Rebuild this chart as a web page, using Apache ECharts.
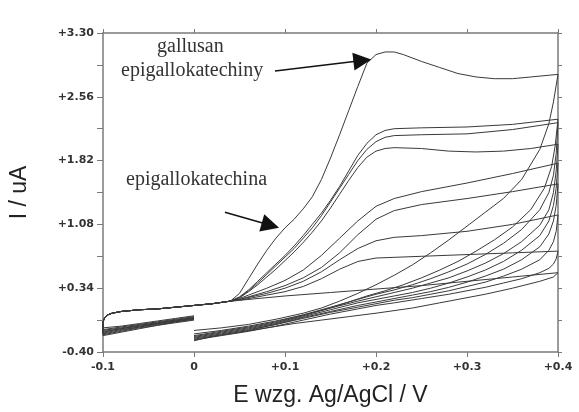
<!DOCTYPE html>
<html>
<head>
<meta charset="utf-8">
<script src="https://cdn.jsdelivr.net/npm/echarts@6/dist/echarts.min.js"></script>
<style>
  html, body { margin: 0; padding: 0; background: #fff; }
  #chart { width: 579px; height: 412px; }
</style>
</head>
<body>
<div id="chart"></div>
<script>
// potencjał E (V) i prąd I (uA)
var startE = [0, -0.02, -0.04, -0.06, -0.08, -0.1];
var startI1 = [0.02, -0.01, -0.04, -0.07, -0.10, -0.12];
var startI2 = [0.01, -0.02, -0.05, -0.08, -0.11, -0.14];
var startI3 = [0.00, -0.03, -0.06, -0.09, -0.12, -0.15];
var startI4 = [0.00, -0.03, -0.06, -0.09, -0.13, -0.16];
var startI5 = [-0.01, -0.04, -0.07, -0.10, -0.13, -0.17];
var startI6 = [-0.01, -0.04, -0.07, -0.11, -0.14, -0.18];
var startI7 = [-0.02, -0.05, -0.08, -0.11, -0.15, -0.19];
var startI8 = [-0.02, -0.05, -0.09, -0.12, -0.16, -0.20];
var startI9 = [-0.03, -0.06, -0.09, -0.13, -0.17, -0.21];

// wspólny początek gałęzi anodowej
var baseE = [-0.1, -0.098, -0.095, -0.09, -0.08, -0.06, -0.04, -0.02, 0, 0.02, 0.04];
var baseI = [-0.05, 0.0, 0.03, 0.05, 0.07, 0.09, 0.10, 0.12, 0.14, 0.16, 0.19];

// gałęzie anodowe (do +0.4 V)
var fwd1 = [[0.05,0.28],[0.06,0.45],[0.07,0.62],[0.08,0.78],[0.09,0.92],[0.10,1.04],[0.11,1.14],[0.12,1.26],[0.13,1.40],[0.14,1.60],[0.15,1.85],[0.16,2.12],[0.17,2.40],[0.18,2.68],[0.19,2.95],[0.20,3.05],[0.21,3.08],[0.22,3.08],[0.23,3.05],[0.25,2.97],[0.27,2.90],[0.29,2.83],[0.31,2.79],[0.33,2.77],[0.35,2.77],[0.37,2.79],[0.39,2.81],[0.40,2.82]];
var fwd2 = [[0.05,0.24],[0.06,0.32],[0.07,0.42],[0.08,0.52],[0.09,0.62],[0.10,0.72],[0.11,0.83],[0.12,0.95],[0.13,1.08],[0.14,1.21],[0.15,1.36],[0.16,1.52],[0.17,1.70],[0.18,1.88],[0.19,2.02],[0.20,2.12],[0.21,2.17],[0.22,2.19],[0.25,2.20],[0.30,2.21],[0.35,2.24],[0.40,2.30]];
var fwd3 = [[0.05,0.23],[0.06,0.31],[0.07,0.40],[0.08,0.50],[0.09,0.60],[0.10,0.70],[0.11,0.80],[0.12,0.92],[0.13,1.04],[0.14,1.18],[0.15,1.34],[0.16,1.50],[0.17,1.66],[0.18,1.82],[0.19,1.95],[0.20,2.04],[0.21,2.09],[0.22,2.11],[0.25,2.12],[0.30,2.13],[0.35,2.18],[0.40,2.26]];
var fwd4 = [[0.05,0.23],[0.06,0.30],[0.07,0.38],[0.08,0.47],[0.09,0.56],[0.10,0.66],[0.11,0.76],[0.12,0.87],[0.13,0.99],[0.14,1.12],[0.15,1.27],[0.16,1.43],[0.17,1.59],[0.18,1.74],[0.19,1.86],[0.20,1.93],[0.21,1.96],[0.22,1.97],[0.25,1.96],[0.28,1.93],[0.31,1.92],[0.34,1.93],[0.37,1.96],[0.40,2.01]];
var fwd5 = [[0.05,0.22],[0.06,0.26],[0.08,0.34],[0.10,0.43],[0.12,0.55],[0.14,0.72],[0.16,0.92],[0.18,1.12],[0.20,1.29],[0.22,1.38],[0.25,1.46],[0.30,1.56],[0.35,1.67],[0.40,1.79]];
var fwd6 = [[0.05,0.21],[0.08,0.30],[0.10,0.37],[0.12,0.46],[0.14,0.58],[0.16,0.75],[0.18,0.96],[0.20,1.14],[0.22,1.24],[0.25,1.31],[0.30,1.38],[0.35,1.46],[0.40,1.55]];
var fwd7 = [[0.05,0.21],[0.08,0.28],[0.10,0.34],[0.12,0.42],[0.14,0.53],[0.16,0.67],[0.18,0.80],[0.20,0.89],[0.22,0.93],[0.25,0.95],[0.30,1.00],[0.35,1.08],[0.40,1.19]];
var fwd8 = [[0.05,0.20],[0.08,0.26],[0.10,0.30],[0.12,0.36],[0.14,0.45],[0.16,0.56],[0.18,0.65],[0.20,0.69],[0.25,0.71],[0.30,0.73],[0.35,0.75],[0.40,0.77]];
var fwd9 = [[0.05,0.20],[0.10,0.25],[0.15,0.29],[0.20,0.33],[0.25,0.37],[0.30,0.42],[0.35,0.47],[0.40,0.52]];

// gałęzie powrotne (od +0.4 V do 0 V)
var rev1 = [[0.40,2.82],[0.395,2.50],[0.39,2.25],[0.38,1.95],[0.36,1.60],[0.34,1.38],[0.32,1.22],[0.30,1.06],[0.28,0.90],[0.26,0.75],[0.24,0.61],[0.22,0.49],[0.20,0.38],[0.18,0.28],[0.16,0.19],[0.14,0.11],[0.12,0.05],[0.09,-0.02],[0.06,-0.08],[0.03,-0.12],[0,-0.15]];
var rev2 = [[0.40,2.30],[0.397,2.00],[0.393,1.75],[0.385,1.50],[0.37,1.25],[0.35,1.05],[0.33,0.90],[0.31,0.77],[0.29,0.65],[0.27,0.55],[0.25,0.46],[0.23,0.38],[0.21,0.31],[0.19,0.25],[0.17,0.18],[0.15,0.11],[0.12,0.03],[0.09,-0.04],[0.06,-0.10],[0.03,-0.15],[0,-0.19]];
var rev3 = [[0.40,2.26],[0.398,1.90],[0.395,1.65],[0.39,1.45],[0.38,1.25],[0.36,1.02],[0.34,0.86],[0.32,0.73],[0.30,0.62],[0.28,0.53],[0.26,0.45],[0.24,0.38],[0.22,0.32],[0.20,0.27],[0.18,0.21],[0.15,0.12],[0.12,0.03],[0.09,-0.05],[0.06,-0.11],[0.03,-0.16],[0,-0.21]];
var rev4 = [[0.40,2.01],[0.398,1.70],[0.395,1.45],[0.39,1.25],[0.38,1.07],[0.36,0.88],[0.34,0.74],[0.32,0.63],[0.30,0.54],[0.28,0.46],[0.26,0.40],[0.24,0.34],[0.22,0.29],[0.20,0.24],[0.18,0.19],[0.15,0.11],[0.12,0.02],[0.09,-0.06],[0.06,-0.12],[0.03,-0.17],[0,-0.22]];
var rev5 = [[0.40,1.79],[0.398,1.50],[0.395,1.30],[0.39,1.12],[0.38,0.95],[0.36,0.78],[0.34,0.65],[0.32,0.55],[0.30,0.47],[0.28,0.40],[0.26,0.34],[0.24,0.29],[0.22,0.25],[0.20,0.21],[0.18,0.17],[0.15,0.09],[0.12,0.01],[0.09,-0.07],[0.06,-0.13],[0.03,-0.18],[0,-0.23]];
var rev6 = [[0.40,1.55],[0.398,1.30],[0.395,1.12],[0.39,0.97],[0.38,0.82],[0.36,0.67],[0.34,0.56],[0.32,0.48],[0.30,0.41],[0.28,0.35],[0.26,0.30],[0.24,0.26],[0.22,0.22],[0.20,0.18],[0.18,0.14],[0.15,0.07],[0.12,0.00],[0.09,-0.08],[0.06,-0.14],[0.03,-0.19],[0,-0.24]];
var rev7 = [[0.40,1.19],[0.398,1.00],[0.395,0.88],[0.39,0.78],[0.38,0.67],[0.36,0.56],[0.34,0.48],[0.32,0.41],[0.30,0.36],[0.28,0.31],[0.26,0.27],[0.24,0.23],[0.22,0.20],[0.20,0.16],[0.18,0.12],[0.15,0.06],[0.12,-0.01],[0.09,-0.08],[0.06,-0.15],[0.03,-0.20],[0,-0.25]];
var rev8 = [[0.40,0.77],[0.398,0.68],[0.395,0.62],[0.39,0.57],[0.38,0.52],[0.36,0.45],[0.34,0.40],[0.32,0.35],[0.30,0.31],[0.28,0.27],[0.25,0.22],[0.22,0.17],[0.20,0.14],[0.18,0.10],[0.15,0.04],[0.12,-0.03],[0.09,-0.10],[0.06,-0.16],[0.03,-0.21],[0,-0.26]];
var rev9 = [[0.40,0.52],[0.395,0.47],[0.38,0.42],[0.35,0.34],[0.32,0.27],[0.30,0.23],[0.27,0.17],[0.24,0.11],[0.20,0.05],[0.17,0.01],[0.14,-0.03],[0.11,-0.07],[0.08,-0.12],[0.05,-0.17],[0.02,-0.22],[0,-0.27]];

var yTicks = [-0.40, -0.03, 0.34, 0.71, 1.08, 1.45, 1.82, 2.19, 2.56, 2.93, 3.30];
var yLabels = [-0.40, 0.34, 1.08, 1.82, 2.56, 3.30];

function zip(xs, ys) {
  return xs.map(function (x, i) { return [x, ys[i]]; });
}
function curve(startI, fwd, rev) {
  return zip(startE, startI).concat(zip(baseE, baseI), fwd, rev);
}

var curves = [
  curve(startI1, fwd1, rev1), curve(startI2, fwd2, rev2), curve(startI3, fwd3, rev3),
  curve(startI4, fwd4, rev4), curve(startI5, fwd5, rev5), curve(startI6, fwd6, rev6),
  curve(startI7, fwd7, rev7), curve(startI8, fwd8, rev8), curve(startI9, fwd9, rev9)
];

var chart = echarts.init(document.getElementById('chart'));
var axisColor = '#7a7a7a';
var labelFont = { color: '#333', fontFamily: 'DejaVu Sans', fontSize: 11, fontWeight: 'bold' };
var nameFont = { fontFamily: 'Liberation Sans', fontSize: 23, color: '#222' };
var noteFont = '20px "Liberation Serif"';

var series = curves.map(function (d) {
  return {
    type: 'line', data: d, showSymbol: false, silent: true,
    lineStyle: { color: '#3a3a3a', width: 1 }
  };
});
series[0].markLine = {
  silent: true, symbol: ['none', 'triangle'], symbolSize: 18,
  label: { show: false },
  lineStyle: { color: '#111', width: 1.5, type: 'solid' },
  data: [
    [{ coord: [0.089, 2.86] }, { coord: [0.185, 2.98] }],
    [{ coord: [0.034, 1.22] }, { coord: [0.084, 1.07] }]
  ]
};

var option = {
  animation: false,
  backgroundColor: '#fff',
  grid: { left: 100, right: 21, top: 33, bottom: 53 },
  xAxis: [{
    type: 'value', min: -0.1, max: 0.4, interval: 0.1,
    name: 'E wzg. Ag/AgCl / V', nameLocation: 'middle', nameGap: 32,
    nameTextStyle: nameFont,
    axisLine: { show: true, onZero: false, lineStyle: { color: axisColor, width: 1.5 } },
    axisTick: { show: true, inside: false, length: 5, lineStyle: { color: axisColor } },
    axisLabel: Object.assign({ margin: 10, formatter: function (v) {
      var s = Math.round(v * 10) / 10;
      return s > 0 ? '+' + s : String(s);
    } }, labelFont),
    splitLine: { show: false }
  }, {
    type: 'value', position: 'top', min: -0.1, max: 0.4, interval: 0.1,
    axisLine: { show: true, onZero: false, lineStyle: { color: axisColor, width: 1.5 } },
    axisTick: { show: true, length: 4, lineStyle: { color: axisColor } },
    axisLabel: { show: false }, splitLine: { show: false }
  }],
  yAxis: [{
    type: 'value', min: -0.4, max: 3.3,
    name: 'I / uA', nameLocation: 'middle', nameGap: 72,
    nameTextStyle: nameFont,
    axisLine: { show: true, onZero: false, lineStyle: { color: axisColor, width: 1.5 } },
    axisTick: { show: true, length: 6, customValues: yTicks, lineStyle: { color: axisColor } },
    axisLabel: Object.assign({ margin: 9, customValues: yLabels, formatter: function (v) {
      return v > 0 ? '+' + v.toFixed(2) : v.toFixed(2);
    } }, labelFont),
    splitLine: { show: false }
  }, {
    type: 'value', position: 'right', min: -0.4, max: 3.3,
    axisLine: { show: true, onZero: false, lineStyle: { color: axisColor, width: 1.5 } },
    axisTick: { show: true, length: 4, customValues: yTicks, lineStyle: { color: axisColor } },
    axisLabel: { show: false }, splitLine: { show: false }
  }],
  graphic: [
    { type: 'text', left: 157, top: 37, silent: true,
      style: { text: 'gallusan', font: noteFont, fill: '#333' } },
    { type: 'text', left: 121, top: 61, silent: true,
      style: { text: 'epigallokatechiny', font: noteFont, fill: '#333' } },
    { type: 'text', left: 126, top: 170, silent: true,
      style: { text: 'epigallokatechina', font: noteFont, fill: '#333' } }
  ],
  series: series
};
chart.setOption(option);
</script>
</body>
</html>
